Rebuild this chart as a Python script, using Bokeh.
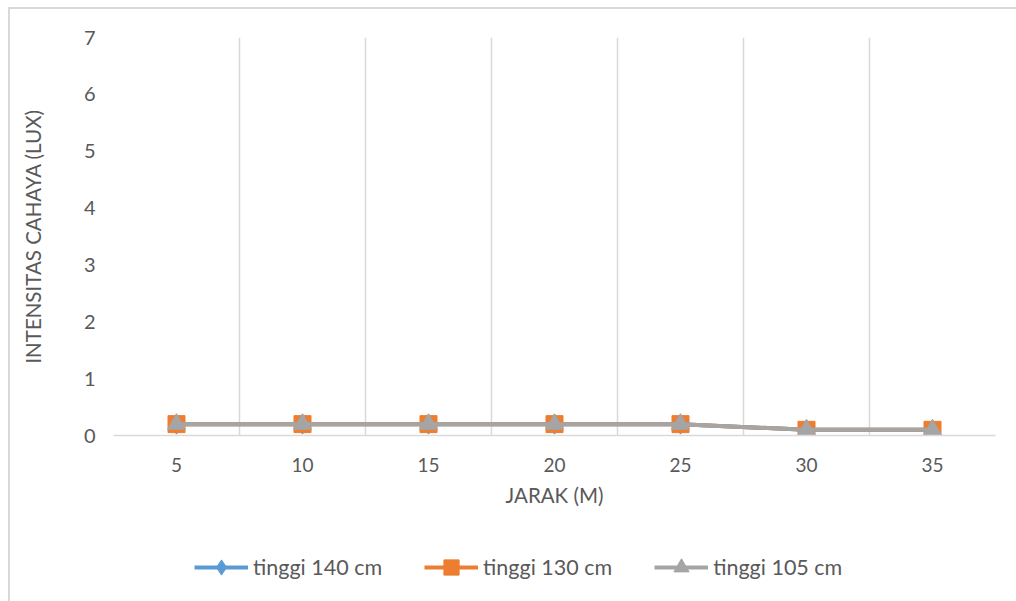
from bokeh.plotting import figure
from bokeh.layouts import column
from bokeh.models import FixedTicker, Legend, LegendItem, Range1d
from bokeh.embed import file_html
from bokeh.resources import INLINE

# Distance (m) and light intensity (lux) for three lamp heights
jarak = [5, 10, 15, 20, 25, 30, 35]
tinggi_140 = [0.2, 0.2, 0.2, 0.2, 0.2, 0.1, 0.1]
tinggi_130 = [0.2, 0.2, 0.2, 0.2, 0.2, 0.1, 0.1]
tinggi_105 = [0.2, 0.2, 0.2, 0.2, 0.2, 0.1, 0.1]
y_ticks = [0, 1, 2, 3, 4, 5, 6, 7]

FONT = "Lato"
TXT = "#595959"
GRID = "#d9d9d9"

p = figure(width=1008, height=511, output_backend="svg", toolbar_location=None,
           x_range=Range1d(2.5, 37.5), y_range=Range1d(0, 7),
           min_border_left=103, min_border_top=28, min_border_right=23,
           min_border_bottom=85)
p.outline_line_color = None
p.background_fill_color = "white"
p.border_fill_color = "white"

# vertical grid lines sit between the distance categories
p.xgrid.ticker = FixedTicker(ticks=[j - 2.5 for j in jarak] + [jarak[-1] + 2.5])
p.xgrid.grid_line_color = GRID
p.xgrid.grid_line_width = 1.5
p.ygrid.grid_line_color = None

p.xaxis.ticker = FixedTicker(ticks=jarak)
p.xaxis.axis_line_color = GRID
p.xaxis.axis_line_width = 1.5
p.xaxis.major_tick_line_color = None
p.xaxis.minor_tick_line_color = None
p.xaxis.major_label_standoff = 16
p.xaxis.major_label_text_font = FONT
p.xaxis.major_label_text_font_size = "19px"
p.xaxis.major_label_text_color = TXT
p.xaxis.axis_label = "JARAK (M)"
p.xaxis.axis_label_standoff = 8
p.xaxis.axis_label_text_font = FONT
p.xaxis.axis_label_text_font_size = "20.5px"
p.xaxis.axis_label_text_font_style = "normal"
p.xaxis.axis_label_text_color = TXT

p.yaxis.ticker = FixedTicker(ticks=y_ticks)
p.yaxis.axis_line_color = None
p.yaxis.major_tick_line_color = None
p.yaxis.minor_tick_line_color = None
p.yaxis.major_label_standoff = 12
p.yaxis.major_label_text_font = FONT
p.yaxis.major_label_text_font_size = "20px"
p.yaxis.major_label_text_color = TXT
p.yaxis.axis_label = "INTENSITAS CAHAYA (LUX)"
p.yaxis.axis_label_standoff = 36
p.yaxis.axis_label_text_font = FONT
p.yaxis.axis_label_text_font_size = "20.5px"
p.yaxis.axis_label_text_font_style = "normal"
p.yaxis.axis_label_text_color = TXT

series = [
    ("tinggi 140 cm", tinggi_140, "#5b9bd5", "diamond", 20),
    ("tinggi 130 cm", tinggi_130, "#ed7d31", "square", 17),
    ("tinggi 105 cm", tinggi_105, "#a5a5a5", "triangle", 18),
]

for name, vals, color, marker, size in series:
    p.line(jarak, vals, line_color=color, line_width=4)
    p.scatter(jarak, vals, marker=marker, size=size,
              fill_color=color, line_color=color)

# legend strip below the chart; its sample glyphs sit outside the visible range
lg = figure(width=1008, height=94, output_backend="svg", toolbar_location=None,
            x_range=Range1d(0, 1), y_range=Range1d(0, 1),
            x_axis_type=None, y_axis_type=None,
            min_border_left=0, min_border_right=0, min_border_top=0,
            min_border_bottom=0)
lg.outline_line_color = None
lg.xgrid.grid_line_color = None
lg.ygrid.grid_line_color = None
lg.border_fill_color = "white"

items = []
for name, vals, color, marker, size in series:
    ln = lg.line([-5, -4], [-5, -5], line_color=color, line_width=4)
    sc = lg.scatter([-4.5], [-5], marker=marker, size=size,
                    fill_color=color, line_color=color)
    items.append(LegendItem(label=name, renderers=[ln, sc]))

legend = Legend(items=items, orientation="horizontal",
                label_text_font=FONT, label_text_font_size="21.5px",
                label_text_color=TXT, glyph_width=54, glyph_height=38,
                label_standoff=5, spacing=42, border_line_color=None,
                background_fill_alpha=0, padding=0, margin=0,
                location=(81, 28))
lg.add_layout(legend, "center")

layout = column(p, lg, spacing=0)
layout.styles = {"margin-left": "8px", "margin-top": "7px",
                 "border-left": "2px solid #d9d9d9",
                 "border-top": "2px solid #d9d9d9"}

open("out.html", "w").write(file_html(layout, INLINE))
